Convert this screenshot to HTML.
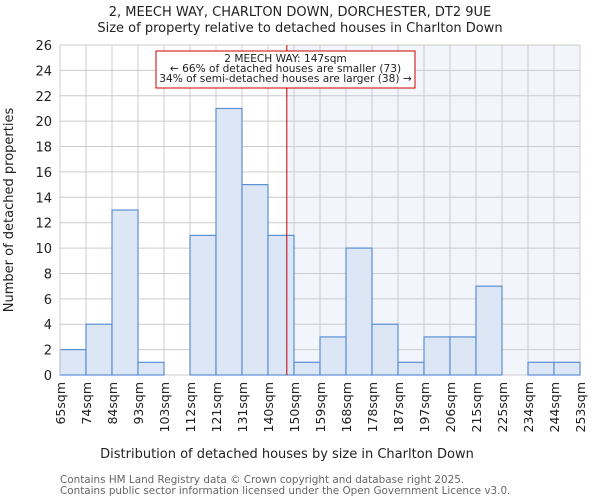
<!DOCTYPE html>
<html><head><meta charset="utf-8"><style>
body{margin:0;background:#fff;font-family:"DejaVu Sans","Liberation Sans",sans-serif}
</style></head><body>
<svg width="600" height="500" xmlns="http://www.w3.org/2000/svg" font-family="DejaVu Sans, Liberation Sans, sans-serif">
<text x="300" y="16" text-anchor="middle" font-size="13" fill="#222">2, MEECH WAY, CHARLTON DOWN, DORCHESTER, DT2 9UE</text>
<text x="300" y="32" text-anchor="middle" font-size="13" fill="#222">Size of property relative to detached houses in Charlton Down</text>
<g id="plot"></g>
<text x="287" y="458" text-anchor="middle" font-size="13" fill="#222">Distribution of detached houses by size in Charlton Down</text>
<text transform="translate(13,210) rotate(-90)" text-anchor="middle" font-size="13" fill="#222">Number of detached properties</text>
<text x="60" y="483" font-size="10.4" fill="#666">Contains HM Land Registry data © Crown copyright and database right 2025.</text>
<text x="60" y="494" font-size="10.4" fill="#666">Contains public sector information licensed under the Open Government Licence v3.0.</text>
</svg>
<script>
const binLabels=["65sqm","74sqm","84sqm","93sqm","103sqm","112sqm","121sqm","131sqm","140sqm","150sqm","159sqm","168sqm","178sqm","187sqm","197sqm","206sqm","215sqm","225sqm","234sqm","244sqm","253sqm"];
const counts=[2,4,13,1,0,11,21,15,11,1,3,10,4,1,3,3,7,0,1,1];
const yTicks=[0,2,4,6,8,10,12,14,16,18,20,22,24,26];
const xMin=65, xMax=253, propSize=147;
const X0=60,X1=580,Y0=375,Y1=45,yMax=26;
const ns="http://www.w3.org/2000/svg";
const g=document.getElementById('plot');
const sx=v=>X0+(v-xMin)/(xMax-xMin)*(X1-X0);
const bw=(X1-X0)/counts.length;
const sy=v=>Y0-(v/yMax)*(Y0-Y1);
function mk(t,a,p){const e=document.createElementNS(ns,t);for(const k in a)e.setAttribute(k,a[k]);(p||g).appendChild(e);return e;}
let e;
e=mk('rect',{x:sx(propSize),y:Y1,width:X1-sx(propSize),height:Y0-Y1,fill:'#f3f5fd'});


yTicks.forEach(t=>{
 e=mk('line',{x1:X0,x2:X1,y1:sy(t),y2:sy(t),stroke:'#ccc','stroke-width':1});
 
 
 e=mk('text',{x:X0-8,y:sy(t)+5,'text-anchor':'end','font-size':13,fill:'#222'});
 e.textContent=t;
 
 
});
binLabels.forEach((l,i)=>{
 const x=X0+i*bw;
 e=mk('line',{x1:x,x2:x,y1:Y1,y2:Y0,stroke:'#ccc','stroke-width':1});
 
 
 e=mk('text',{transform:`translate(${x+5},382) rotate(-90)`,'text-anchor':'end','font-size':12.5,fill:'#222'});
 e.textContent=l;
 
 
});
counts.forEach((c,i)=>{
 if(c<=0)return;
 e=mk('rect',{x:X0+i*bw,y:sy(c),width:bw,height:Y0-sy(c),fill:'#dce6f4',stroke:'#5b8fd6','stroke-width':1.2});
 
 
});
e=mk('line',{x1:X0,x2:X0,y1:Y1,y2:Y0,stroke:'#ccc'});


e=mk('line',{x1:sx(propSize),x2:sx(propSize),y1:Y1,y2:Y0,stroke:'#b00','stroke-width':1});


e=mk('rect',{x:156,y:51,width:259,height:37,fill:'#fff',stroke:'#c00','stroke-width':1});


["2 MEECH WAY: 147sqm","← 66% of detached houses are smaller (73)","34% of semi-detached houses are larger (38) →"].forEach((t,i)=>{
 e=mk('text',{x:285.5,y:62+i*10,'text-anchor':'middle','font-size':10.6,fill:'#222'});
 e.textContent=t;
 
 
});
</script>
</body></html>
